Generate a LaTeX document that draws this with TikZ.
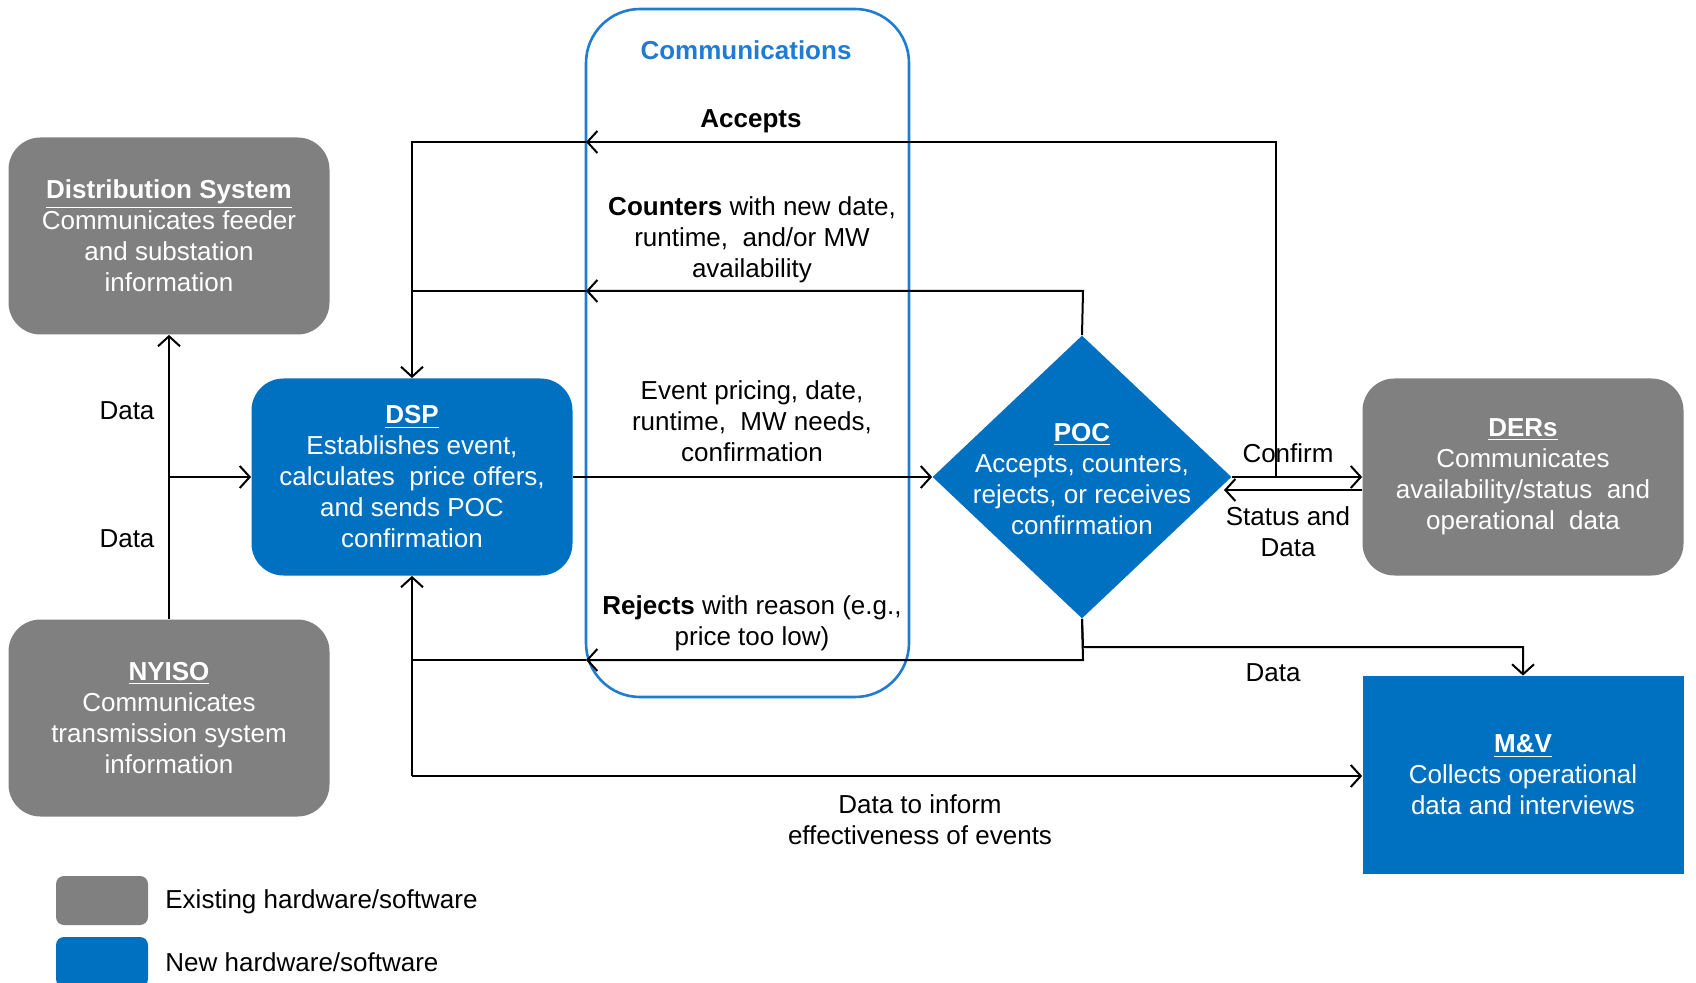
\documentclass[tikz,border=0pt]{standalone}
\usepackage{fontspec}
\setmainfont{Liberation Sans}
\usetikzlibrary{shapes.geometric,arrows.meta}
\definecolor{oldgray}{RGB}{128,128,128}
\definecolor{newblue}{RGB}{0,112,192}
\definecolor{commblue}{RGB}{32,124,210}

\begin{document}
\begin{tikzpicture}[x=0.5pt,y=0.5pt,yscale=-1,
  txt/.style={font=\fontsize{13}{15.5}\selectfont, align=center, inner sep=0pt},
  oldbox/.style={txt, text=white, fill=oldgray, rounded corners=16pt, minimum width=160.5pt, minimum height=98.5pt},
  newbox/.style={txt, text=white, fill=newblue, rounded corners=16pt, minimum width=160.5pt, minimum height=98.5pt},
  flow/.style={line width=1pt, -{Straight Barb[length=5pt,width=11pt]}},
  link/.style={line width=1pt}]
\useasboundingbox (0,0) rectangle (1696,983);

%Shape: Rounded Rect [id:comm]
\node[draw=commblue, line width=1.3pt, rounded corners=27pt, minimum width=161.5pt, minimum height=344pt, inner sep=0pt] (comm) at (747.5,353) {};

%Shape: Rounded Rect [id:ds]
\node[oldbox] (ds) at (169,236) {\underline{\textbf{Distribution System}}\\Communicates feeder\\and substation\\information};
%Shape: Rounded Rect [id:nyiso]
\node[oldbox] (nyiso) at (169,718) {\underline{\textbf{NYISO}}\\Communicates\\transmission system\\information};
%Shape: Rounded Rect [id:dsp]
\node[newbox] (dsp) at (412,477) {\underline{\textbf{DSP}}\\Establishes event,\\calculates~ price offers,\\and sends POC\\confirmation};
%Shape: Rounded Rect [id:ders]
\node[oldbox] (ders) at (1523,477) {\underline{\textbf{DERs}}\\Communicates\\availability/status~ and\\operational~ data};
%Shape: Rectangle [id:mv]
\node[newbox, rounded corners=0pt, minimum height=99pt] (mv) at (1523,775) {\underline{\textbf{M\&V}}\\Collects operational\\data and interviews};
%Shape: Diamond [id:poc]
\node[diamond, fill=newblue, minimum width=149.5pt, minimum height=141.5pt, inner sep=0pt] (poc) at (1082,477) {};
\node[txt, text=white] (poc-txt) at (1082,479) {\underline{\textbf{POC}}\\Accepts, counters,\\rejects, or receives\\confirmation};

%Straight Lines [id:accepts]
\coordinate (acc-r) at (1276,477);
\coordinate (acc-t) at (1276,142);
\coordinate (acc-c) at (586,142);
\coordinate (acc-l) at (412,142);
\draw[flow] (acc-r) -- (acc-t) -- (acc-c);
\draw[flow] (acc-c) -- (acc-l) -- (dsp.north);

%Straight Lines [id:counters]
\coordinate (cnt-r) at (1083,291);
\coordinate (cnt-c) at (586,291);
\coordinate (cnt-l) at (412,291);
\draw[flow] (poc.north) -- (cnt-r) -- (cnt-c);
\draw[link] (cnt-c) -- (cnt-l);

%Straight Lines [id:event]
\draw[flow] (dsp.east) -- (poc.west);

%Straight Lines [id:rejects]
\coordinate (rej-r) at (1083,660);
\coordinate (rej-c) at (586,660);
\coordinate (rej-l) at (412,660);
\draw[flow] (poc.south) -- (rej-r) -- (rej-c);
\draw[link] (rej-c) -- (rej-l);

%Straight Lines [id:effect]
\coordinate (eff-l) at (412,776);
\draw[flow] (eff-l) -- (dsp.south);
\draw[flow] (eff-l) -- (eff-l -| mv.west);

%Straight Lines [id:pocmv]
\coordinate (mv-a) at (1083,647);
\coordinate (mv-b) at (1523,647);
\draw[flow] (poc.south) -- (mv-a) -- (mv-b) -- (mv.north);

%Straight Lines [id:confirm]
\draw[flow] (poc.east) -- (ders.west);
\coordinate (st-a) at (1362,490);
\coordinate (st-b) at (1224,490);
\draw[flow] (st-a) -- (st-b);

%Straight Lines [id:grid]
\coordinate (dat-j) at (168,477);
\draw[flow] (nyiso.north) -- (ds.south);
\draw[flow] (dat-j) -- (dsp.west);

%Shape: Legend
\node[fill=oldgray, rounded corners=4pt, minimum width=46pt, minimum height=24.5pt, inner sep=0pt] (key-old) at (102,900.5) {};
\node[fill=newblue, rounded corners=4pt, minimum width=46pt, minimum height=25pt, inner sep=0pt] (key-new) at (102,962) {};

% Text Node
\node[txt, text=commblue] (comm-title) at (746,50) {\textbf{Communications}};
% Text Node
\node[txt] (acc-txt) at (751,121) {\textbf{Accepts}};
% Text Node
\node[txt] (cnt-txt) at (752,240) {\textbf{Counters} with new date,\\runtime,~ and/or MW\\availability};
% Text Node
\node[txt] (evt-txt) at (752,421) {Event pricing, date,\\runtime,~ MW needs,\\confirmation};
% Text Node
\node[txt] (rej-txt) at (752,623) {\textbf{Rejects} with reason (e.g.,\\price too low)};
% Text Node
\node[txt] (eff-txt) at (920,820) {Data to inform\\effectiveness of events};
% Text Node
\node[txt] (cnf-txt) at (1288,453) {Confirm};
% Text Node
\node[txt] (st-txt) at (1288,532) {Status and\\Data};
% Text Node
\node[txt] (mv-txt) at (1273,673) {Data};
% Text Node
\node[txt] (ds-txt) at (127,411) {Data};
% Text Node
\node[txt] (ny-txt) at (127,539) {Data};
% Text Node
\node[txt, anchor=west] (key-old-txt) at (165,902) {Existing hardware/software};
% Text Node
\node[txt, anchor=west] (key-new-txt) at (165,962) {New hardware/software};

\end{tikzpicture}
\end{document}
